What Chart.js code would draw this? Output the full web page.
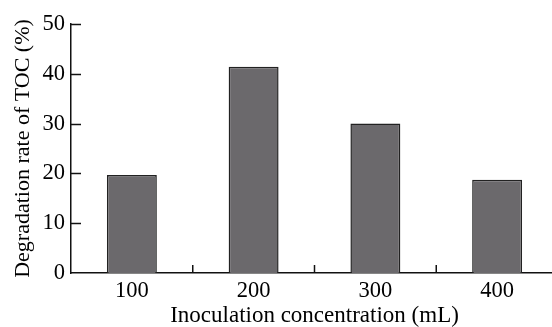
<!DOCTYPE html>
<html>
<head>
<meta charset="utf-8">
<script src="https://cdn.jsdelivr.net/npm/chart.js@4/dist/chart.umd.min.js"></script>
<style>
    html, body { margin: 0; padding: 0; background: #ffffff; overflow: hidden; }
    #wrap { width: 558px; height: 330px; }
</style>
</head>
<body>
<div id="wrap"><canvas id="tocChart" width="558" height="330"></canvas></div>
<script>
// Inoculation concentration (mL) vs TOC degradation rate (%)
const concentrations = ["100", "200", "300", "400"];
const degradationRates = [19.7, 41.4, 30.0, 18.7];
const yTicks = [0, 10, 20, 30, 40, 50];

const serif = "'Liberation Serif', 'Times New Roman', serif";
const inkColor = "#111111";

// ticks that point into the plot, like the printed figure
const inwardTicksPlugin = {
    id: "inwardTicks",
    afterDraw(chart) {
        const { ctx, scales } = chart;
        const xScale = scales.x;
        const yScale = scales.y;
        const axisX = xScale.left;
        const axisY = yScale.getPixelForValue(0);

        ctx.save();
        ctx.strokeStyle = inkColor;
        ctx.lineWidth = 1.5;

        yTicks.forEach(value => {
            if (value === 0) return;
            const y = Math.round(yScale.getPixelForValue(value)) + 0.5;
            ctx.beginPath();
            ctx.moveTo(axisX, y);
            ctx.lineTo(axisX + 10, y);
            ctx.stroke();
        });

        for (let index = 0; index < concentrations.length - 1; index += 1) {
            const x = (xScale.getPixelForValue(index) + xScale.getPixelForValue(index + 1)) / 2;
            ctx.beginPath();
            ctx.moveTo(x, axisY);
            ctx.lineTo(x, axisY - 8);
            ctx.stroke();
        }
        ctx.restore();
    }
};

new Chart(document.getElementById("tocChart"), {
    type: "bar",
    data: {
        labels: concentrations,
        datasets: [{
            data: degradationRates,
            backgroundColor: "#6b696c",
            borderColor: "#222222",
            borderWidth: 1.5,
            categoryPercentage: 1,
            barPercentage: 0.41
        }]
    },
    options: {
        responsive: false,
        animation: false,
        events: [],
        layout: {
            padding: { top: 24, right: 0, bottom: 0, left: 0 }
        },
        plugins: {
            legend: { display: false },
            tooltip: { enabled: false }
        },
        scales: {
            x: {
                grid: { display: false, drawTicks: false },
                border: { display: true, color: inkColor, width: 1.5 },
                ticks: {
                    color: "#000000",
                    padding: 5,
                    font: { family: serif, size: 22.5 }
                },
                title: {
                    display: true,
                    text: "Inoculation concentration (mL)",
                    color: "#000000",
                    padding: { top: 0, bottom: 0 },
                    font: { family: serif, size: 23 }
                },
                afterFit(scale) { scale.height = 57; }
            },
            y: {
                min: 0,
                max: 50,
                afterBuildTicks(scale) {
                    scale.ticks = yTicks.map(value => ({ value }));
                },
                grid: { display: false, drawTicks: false },
                border: { display: true, color: inkColor, width: 1.5 },
                ticks: {
                    color: "#000000",
                    padding: 6,
                    font: { family: serif, size: 22.5 }
                },
                title: {
                    display: true,
                    text: "Degradation rate of TOC (%)",
                    color: "#000000",
                    padding: { top: 10, bottom: 0 },
                    font: { family: serif, size: 22 }
                },
                afterFit(scale) { scale.width = 71; }
            }
        }
    },
    plugins: [inwardTicksPlugin]
});
</script>
</body>
</html>
